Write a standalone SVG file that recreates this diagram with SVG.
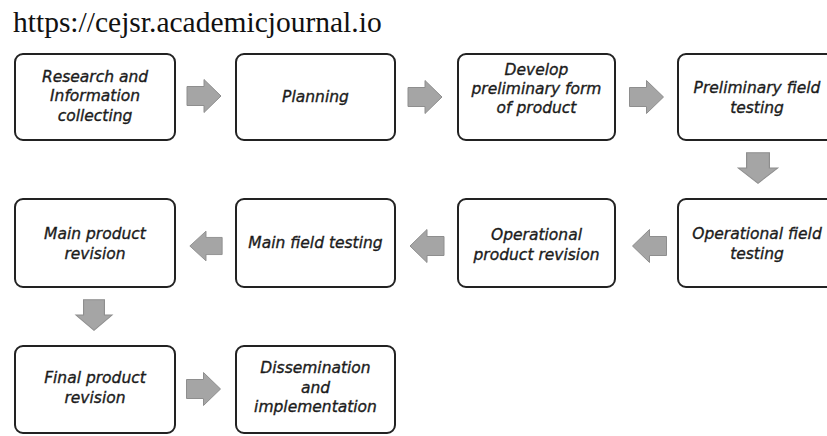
<svg xmlns="http://www.w3.org/2000/svg" width="827" height="436" viewBox="0 0 827 436">
<style>
.box{fill:#fff;stroke:#222;stroke-width:2}
.lbl{font-family:"DejaVu Sans",Verdana,sans-serif;font-style:italic;font-size:15.5px;fill:#1c1c1c;stroke:#1c1c1c;stroke-width:0.35;text-anchor:middle}
.title{font-family:"Liberation Serif","Times New Roman",serif;font-size:29.5px;fill:#111}
.arr{fill:#a5a5a5;stroke:#8e8e8e;stroke-width:1}
</style>
<defs>
<path id="ar" d="M-17,-9.5 H0 V-16.5 L17,0 L0,16.5 V9.5 H-17 Z"/>
</defs>
<rect width="827" height="436" fill="#fff"/>
<text class="title" x="13" y="32">https://cejsr.academicjournal.io</text>

<g id="n1"><rect class="box" x="15" y="54" width="160" height="86" rx="8"/>
<text class="lbl" x="95" y="82">Research  and</text><text class="lbl" x="95" y="101">Information</text><text class="lbl" x="95" y="121">collecting</text></g>
<g id="n2"><rect class="box" x="236" y="54" width="159" height="86" rx="8"/>
<text class="lbl" x="315.5" y="102">Planning</text></g>
<g id="n3"><rect class="box" x="458" y="54" width="157" height="86" rx="8"/>
<text class="lbl" x="536.5" y="75">Develop</text><text class="lbl" x="536.5" y="94">preliminary form</text><text class="lbl" x="536.5" y="113">of product</text></g>
<g id="n4"><rect class="box" x="678" y="54" width="160" height="86" rx="8"/>
<text class="lbl" x="757" y="93">Preliminary field</text><text class="lbl" x="757" y="113">testing</text></g>

<g id="n5"><rect class="box" x="15" y="199" width="160" height="88" rx="8"/>
<text class="lbl" x="95" y="239">Main product</text><text class="lbl" x="95" y="259">revision</text></g>
<g id="n6"><rect class="box" x="236" y="199" width="159" height="88" rx="8"/>
<text class="lbl" x="315.5" y="248">Main field  testing</text></g>
<g id="n7"><rect class="box" x="458" y="199" width="157" height="88" rx="8"/>
<text class="lbl" x="536.5" y="240">Operational</text><text class="lbl" x="536.5" y="260">product revision</text></g>
<g id="n8"><rect class="box" x="678" y="199" width="160" height="88" rx="8"/>
<text class="lbl" x="757" y="239">Operational field</text><text class="lbl" x="757" y="259">testing</text></g>

<g id="n9"><rect class="box" x="15" y="346" width="160" height="87" rx="8"/>
<text class="lbl" x="95" y="383">Final product</text><text class="lbl" x="95" y="403">revision</text></g>
<g id="n10"><rect class="box" x="236" y="346" width="159" height="87" rx="8"/>
<text class="lbl" x="315.5" y="373">Dissemination</text><text class="lbl" x="315.5" y="393">and</text><text class="lbl" x="315.5" y="412">implementation</text></g>

<g id="connectors">
<use href="#ar" class="arr" transform="translate(204,96)"/>
<use href="#ar" class="arr" transform="translate(425,97)"/>
<use href="#ar" class="arr" transform="translate(646.5,97)"/>
<use href="#ar" class="arr" transform="translate(758,168) rotate(90) scale(0.9,1.2)"/>
<use href="#ar" class="arr" transform="translate(649.5,246) rotate(180)"/>
<use href="#ar" class="arr" transform="translate(427,246) rotate(180)"/>
<use href="#ar" class="arr" transform="translate(206,246) rotate(180) scale(0.95,0.9)"/>
<use href="#ar" class="arr" transform="translate(94,315) rotate(90) scale(0.9,1.1)"/>
<use href="#ar" class="arr" transform="translate(203.5,389) rotate(0)"/>
</g>
</svg>
